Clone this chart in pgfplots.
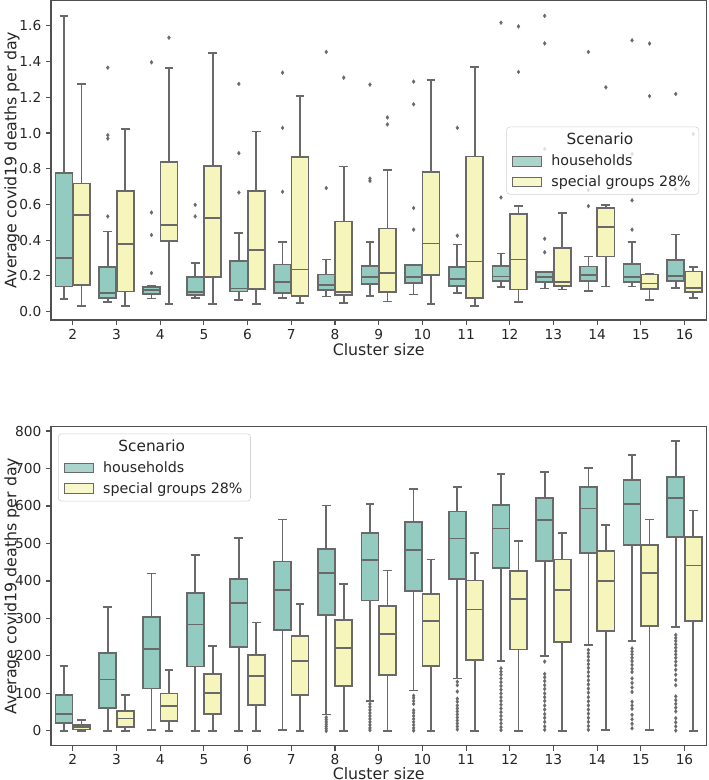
\documentclass[border=0pt]{standalone}
\usepackage{fontspec}
\setmainfont{DejaVu Sans}
\usepackage{pgfplots}
\pgfplotsset{compat=1.18}
\usepgfplotslibrary{statistics}

\definecolor{tealc}{RGB}{147,203,192}
\definecolor{yellc}{RGB}{246,246,188}
\definecolor{edgec}{RGB}{105,105,105}
\definecolor{framec}{RGB}{80,80,80}
\definecolor{textc}{RGB}{38,38,38}

\pgfplotsset{
  bp/.style={forget plot, draw=edgec, line width=1.3pt, mark=diamond*, mark size=1.5pt,
    mark options={solid, fill=edgec, draw=edgec, line width=0.2pt},
    boxplot/draw direction=y,
    boxplot/box extend=0.39, boxplot/whisker extend=0.2},
  legpatch/.style={legend image code/.code={\draw[##1, sharp corners, line width=0.6pt] (0pt,-3.7pt) rectangle (22pt,3.7pt);}},
  common/.style={
    scale only axis, width=491.5pt,
    xmin=-0.5, xmax=14.5,
    xtick={0,1,2,3,4,5,6,7,8,9,10,11,12,13,14},
    xticklabels={2,3,4,5,6,7,8,9,10,11,12,13,14,15,16},
    tick align=outside, tick pos=left, major tick length=3.75pt,
    axis line style={framec, line width=0.8pt},
    every tick/.style={framec, line width=0.8pt},
    ticklabel style={textc, font=\fontsize{10.3}{12}\selectfont},
    /pgf/number format/assume math mode=true,
    xlabel={Cluster size}, ylabel={Average covid19 deaths per day},
    every axis y label/.style={at={(axis description cs:-0.0595,0.5)}, rotate=90, anchor=center, textc, font=\fontsize{11.85}{14}\selectfont},
    legend cell align=left,
    legend style={draw=black!18, rounded corners=2.5pt, fill=white, fill opacity=0.8, text opacity=1, draw opacity=1,
      inner xsep=4pt, inner ysep=2.5pt, row sep=2pt, text=textc, cells={anchor=west},
      font=\fontsize{10.7}{12.8}\selectfont,
      /tikz/every odd column/.append style={column sep=5pt}},
  }
}
\newcommand{\BX}[8]{\addplot[bp, fill=#1, boxplot prepared={draw position=#2, lower whisker=#3, lower quartile=#4, median=#5, upper quartile=#6, upper whisker=#7}] coordinates {#8};}
\newcommand{\LegTitle}{\addlegendimage{empty legend}\addlegendentry{\hspace*{11.5pt}\fontsize{11.5}{13}\selectfont Scenario}}

\begin{document}
\begin{tikzpicture}[font=\fontsize{11.2}{13.4}\selectfont]
\path[use as bounding box] (0,0) rectangle (531pt,585pt);
\begin{axis}[common, at={(38.25pt,585pt)}, anchor=north west, height=240pt,
  ymin=-0.047, ymax=1.745, ytick={0,0.2,0.4,0.6,0.8,1.0,1.2,1.4,1.6},
  /pgf/number format/fixed, /pgf/number format/fixed zerofill, /pgf/number format/precision=1,
  xticklabel style={inner ysep=1pt, yshift=-2.2pt},
  every axis x label/.style={at={(axis description cs:0.5,-0.093)}, anchor=center, inner sep=0pt, textc, font=\fontsize{11.85}{14}\selectfont},
  legend style={at={(0.6947,0.604)}, anchor=north west}]
\LegTitle
\addlegendimage{legpatch, fill=tealc, draw=edgec}\addlegendentry{households}
\addlegendimage{legpatch, fill=yellc, draw=edgec}\addlegendentry{special groups 28\%}
% households (teal) and special groups (yellow)
\BX{tealc}{-0.2}{0.069}{0.140}{0.302}{0.775}{1.655}{}
\BX{yellc}{0.2}{0.032}{0.149}{0.541}{0.718}{1.273}{}
\BX{tealc}{0.8}{0.054}{0.076}{0.106}{0.250}{0.449}{(0,1.366) (0,0.988) (0,0.969) (0,0.533)}
\BX{yellc}{1.2}{0.032}{0.112}{0.378}{0.677}{1.023}{}
\BX{tealc}{1.8}{0.073}{0.097}{0.119}{0.138}{0.142}{(0,1.396) (0,0.555) (0,0.429) (0,0.216)}
\BX{yellc}{2.2}{0.043}{0.397}{0.486}{0.839}{1.363}{(0,1.534)}
\BX{tealc}{2.8}{0.076}{0.091}{0.110}{0.194}{0.272}{(0,0.598) (0,0.533)}
\BX{yellc}{3.2}{0.043}{0.192}{0.524}{0.816}{1.448}{}
\BX{tealc}{3.8}{0.063}{0.112}{0.130}{0.285}{0.442}{(0,1.275) (0,0.887) (0,0.667)}
\BX{yellc}{4.2}{0.043}{0.125}{0.345}{0.677}{1.008}{}
\BX{tealc}{4.8}{0.076}{0.106}{0.164}{0.263}{0.390}{(0,1.338) (0,1.029) (0,0.671)}
\BX{yellc}{5.2}{0.047}{0.086}{0.235}{0.867}{1.206}{}
\BX{tealc}{5.8}{0.084}{0.121}{0.147}{0.207}{0.291}{(0,1.454) (0,0.692)}
\BX{yellc}{6.2}{0.047}{0.091}{0.108}{0.505}{0.813}{(0,1.310)}
\BX{tealc}{6.8}{0.089}{0.153}{0.192}{0.257}{0.390}{(0,1.271) (0,0.745) (0,0.732)}
\BX{yellc}{7.2}{0.056}{0.108}{0.216}{0.466}{0.792}{(0,1.087) (0,1.048)}
\BX{tealc}{7.8}{0.095}{0.162}{0.192}{0.261}{0.262}{(0,1.288) (0,1.161) (0,0.580) (0,0.459)}
\BX{yellc}{8.2}{0.043}{0.203}{0.382}{0.783}{1.295}{}
\BX{tealc}{8.8}{0.104}{0.142}{0.181}{0.250}{0.375}{(0,1.029) (0,0.425)}
\BX{yellc}{9.2}{0.030}{0.076}{0.280}{0.869}{1.368}{}
\BX{tealc}{9.8}{0.138}{0.171}{0.196}{0.255}{0.326}{(0,1.618) (0,0.639)}
\BX{yellc}{10.2}{0.052}{0.123}{0.291}{0.546}{0.591}{(0,1.597) (0,1.342)}
\BX{tealc}{10.8}{0.129}{0.166}{0.192}{0.220}{0.224}{(0,1.656) (0,1.502) (0,0.911) (0,0.408) (0,0.332)}
\BX{yellc}{11.2}{0.123}{0.144}{0.164}{0.358}{0.551}{}
\BX{tealc}{11.8}{0.114}{0.171}{0.205}{0.252}{0.308}{(0,1.454) (0,0.680) (0,0.591)}
\BX{yellc}{12.2}{0.140}{0.308}{0.473}{0.580}{0.595}{(0,1.256)}
\BX{tealc}{12.8}{0.140}{0.164}{0.192}{0.268}{0.390}{(0,1.519) (0,0.883) (0,0.623) (0,0.459)}
\BX{yellc}{13.2}{0.063}{0.125}{0.157}{0.207}{0.209}{(0,1.501) (0,1.207)}
\BX{tealc}{13.8}{0.131}{0.171}{0.199}{0.287}{0.431}{(0,1.219) (0,0.686)}
\BX{yellc}{14.2}{0.076}{0.108}{0.134}{0.224}{0.250}{(0,0.995)}
\end{axis}

\begin{axis}[common, at={(38.25pt,265.1pt)}, anchor=north west, height=239.25pt,
  ymin=-39, ymax=812, ytick={0,100,200,300,400,500,600,700,800},
  xticklabel style={inner ysep=1pt, yshift=-1.5pt},
  every axis x label/.style={at={(axis description cs:0.5,-0.0875)}, anchor=center, inner sep=0pt, textc, font=\fontsize{11.85}{14}\selectfont},
  legend style={at={(0.0107,0.978)}, anchor=north west}]
\LegTitle
\addlegendimage{legpatch, fill=tealc, draw=edgec}\addlegendentry{households}
\addlegendimage{legpatch, fill=yellc, draw=edgec}\addlegendentry{special groups 28\%}
\BX{tealc}{-0.2}{0}{20.6}{46}{95}{173}{}
\BX{yellc}{0.2}{0}{4}{10}{15}{30}{}
\BX{tealc}{0.8}{0}{61}{137}{207}{331}{}
\BX{yellc}{1.2}{0}{11}{33}{52.5}{95}{}
\BX{tealc}{1.8}{2}{113}{219}{304}{420}{}
\BX{yellc}{2.2}{0}{27}{66}{99.6}{163}{}
\BX{tealc}{2.8}{0}{171.5}{284}{367}{470}{}
\BX{yellc}{3.2}{0}{45}{101}{152}{226}{}
\BX{tealc}{3.8}{0}{223}{342}{406}{515}{}
\BX{yellc}{4.2}{0}{70}{146.6}{202.5}{289.5}{}
\BX{tealc}{4.8}{2}{270}{375}{452}{564}{}
\BX{yellc}{5.2}{0}{95}{187}{254}{339}{}
\BX{tealc}{5.8}{43.6}{309}{421.7}{486}{601}{(0,36) (0,30) (0,24) (0,18) (0,12) (0,6) (0,0)}
\BX{yellc}{6.2}{0}{120}{222}{295}{391}{}
\BX{tealc}{6.8}{80}{348}{456}{528}{605}{(0,72) (0,64) (0,56) (0,48) (0,40) (0,32) (0,24) (0,16) (0,8) (0,2)}
\BX{yellc}{7.2}{0}{149}{258}{334}{428}{}
\BX{tealc}{7.8}{107.5}{374}{483}{557}{645}{(0,94) (0,88) (0,80) (0,72) (0,55) (0,48) (0,40) (0,32) (0,24) (0,16) (0,8) (0,1)}
\BX{yellc}{8.2}{0}{173}{294}{366}{457}{}
\BX{tealc}{8.8}{139.6}{405}{513}{585}{651}{(0,131) (0,122) (0,105) (0,86) (0,78) (0,68) (0,60) (0,52) (0,44) (0,36) (0,28) (0,20) (0,12) (0,4)}
\BX{yellc}{9.2}{0}{190}{324}{401}{474}{}
\BX{tealc}{9.8}{187}{434}{540}{603}{685}{(0,167) (0,158) (0,150) (0,140) (0,130) (0,120) (0,110) (0,100) (0,90) (0,80) (0,70) (0,60) (0,50) (0,40) (0,30) (0,20) (0,10) (0,2)}
\BX{yellc}{10.2}{0}{217.5}{351}{426}{506}{}
\BX{tealc}{10.8}{200}{453.7}{563.6}{622}{690}{(0,185) (0,152) (0,143) (0,133) (0,122) (0,112) (0,100) (0,90) (0,80) (0,68) (0,57) (0,45) (0,35) (0,24) (0,12) (0,3)}
\BX{yellc}{11.2}{0}{238}{376}{457}{528}{}
\BX{tealc}{11.8}{230}{475}{593}{650}{702}{(0,216) (0,207) (0,198) (0,188) (0,178) (0,168) (0,157) (0,146) (0,135) (0,124) (0,113) (0,102) (0,90) (0,79) (0,68) (0,57) (0,46) (0,35) (0,24) (0,13) (0,3)}
\BX{yellc}{12.2}{2}{266}{399}{479}{548.6}{}
\BX{tealc}{12.8}{240.6}{495}{605}{669}{736}{(0,220) (0,212) (0,204) (0,195) (0,186) (0,176) (0,166) (0,157) (0,140) (0,128) (0,116) (0,104) (0,78) (0,68) (0,59) (0,43) (0,31) (0,19) (0,7)}
\BX{yellc}{13.2}{2}{279}{421}{495}{564}{}
\BX{tealc}{13.8}{278}{518}{621}{678}{774}{(0,256) (0,248) (0,240) (0,231) (0,222) (0,213) (0,204) (0,195) (0,185) (0,175) (0,163) (0,150) (0,136) (0,122) (0,92) (0,82) (0,72) (0,62) (0,52) (0,34) (0,23) (0,12) (0,1)}
\BX{yellc}{14.2}{0}{294}{441}{517}{588}{}
\end{axis}
\end{tikzpicture}
\end{document}
